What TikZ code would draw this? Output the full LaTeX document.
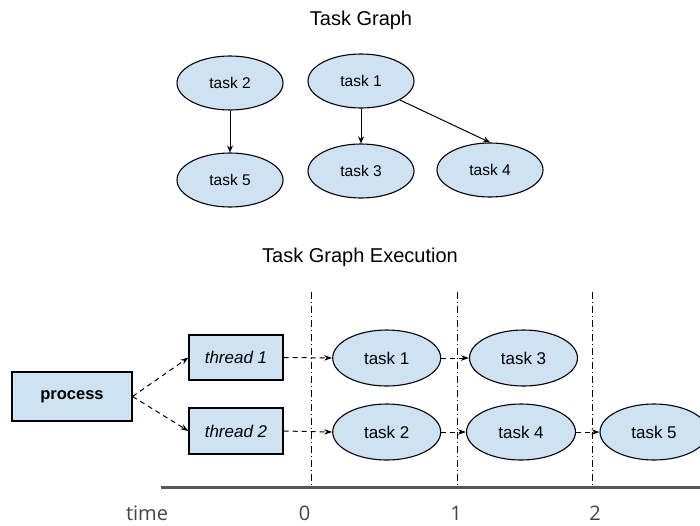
\documentclass[tikz,border=0pt]{standalone}
\usepackage{fontspec}
\setmainfont{Liberation Sans}
\newfontfamily\axisfont{Open Sans}
\usetikzlibrary{shapes.geometric,arrows.meta}
\definecolor{taskfill}{HTML}{CFE2F3}
\definecolor{axisgray}{HTML}{444444}
\begin{document}
\begin{tikzpicture}[x=1pt,y=-1pt,
  task/.style={ellipse,draw,fill=taskfill,line width=1.1pt,minimum width=106pt,
    minimum height=54pt,inner sep=0pt,font=\fontsize{15.5}{19}\selectfont},
  runtask/.style={task,minimum width=108pt,minimum height=56pt,font=\fontsize{17}{20}\selectfont},
  worker/.style={rectangle,draw,fill=taskfill,line width=1.1pt,inner sep=0pt,
    font=\fontsize{17}{20}\selectfont},
  dep/.style={-{Stealth[length=7pt,width=6pt]},line width=1pt},
  flow/.style={-{Stealth[length=8pt,width=5.5pt]},line width=1pt,dash pattern=on 5pt off 4pt},
  tick/.style={line width=0.8pt,dash pattern=on 7pt off 3pt on 1pt off 3pt},
  title/.style={font=\fontsize{20}{24}\selectfont,anchor=base},
  axislabel/.style={font=\axisfont\fontsize{20}{24}\selectfont,text=axisgray,anchor=base}]

\useasboundingbox (0,0) rectangle (700,525);
\clip (0,0) rectangle (700,525);

% ---------- dependency graph ----------
\node[title] (gtitle) at (361,25) {Task Graph};
\node[task] (g2) at (230,83) {task 2};
\node[task] (g5) at (230,180) {task 5};
\node[task] (g1) at (361,81) {task 1};
\node[task] (g3) at (361,171) {task 3};
\node[task] (g4) at (490,170) {task 4};
\draw[dep] (g2) -- (g5);
\draw[dep] (g1) -- (g3);
\draw[dep] (g1.-26) -- (g4.north);

% ---------- execution timeline ----------
\node[title] (etitle) at (360,262.5) {Task Graph Execution};

% time axis and slot boundaries
\coordinate (axl) at (161,487);
\coordinate (axr) at (700,487);
\foreach \n/\x in {0/311,1/457,2/592}{
  \coordinate (top\n) at (\x,292);
  \coordinate (bot\n) at (\x,487);
  \draw[tick] (top\n) -- (bot\n);
}
\draw[line width=3pt,draw=axisgray!90] (axl) -- (axr);

\node[axislabel] (ltime) at (147,520.5) {time};
\node[axislabel] (l0) at (304.5,520.5) {0};
\node[axislabel] (l1) at (456,520.5) {1};
\node[axislabel] (l2) at (595,520.5) {2};

% process and threads
\node[worker,minimum width=120pt,minimum height=49pt,font=\fontsize{16.5}{20}\selectfont\bfseries]
  (proc) at (72,396.5) {process};
\node[worker,minimum width=94pt,minimum height=45pt] (th1) at (236,357.5) {\itshape thread 1};
\node[worker,minimum width=94pt,minimum height=46pt] (th2) at (236,431) {\itshape thread 2};

% scheduled tasks
\node[runtask] (r1) at (386.7,358) {task 1};
\node[runtask] (r3) at (523.5,358) {task 3};
\node[runtask] (r2) at (386.7,432) {task 2};
\node[runtask,minimum width=109pt] (r4) at (521,432) {task 4};
\node[runtask] (r5) at (654,432) {task 5};

\draw[flow] (proc.east) -- (th1.west);
\draw[flow] (proc.east) -- (th2.west);
\draw[flow] (th1.east) -- (r1.west);
\draw[flow] (r1.east) -- (r3.west);
\draw[flow] (th2.east) -- (r2.west);
\draw[flow] (r2.east) -- (r4.west);
\draw[flow] (r4.east) -- (r5.west);
\end{tikzpicture}
\end{document}
